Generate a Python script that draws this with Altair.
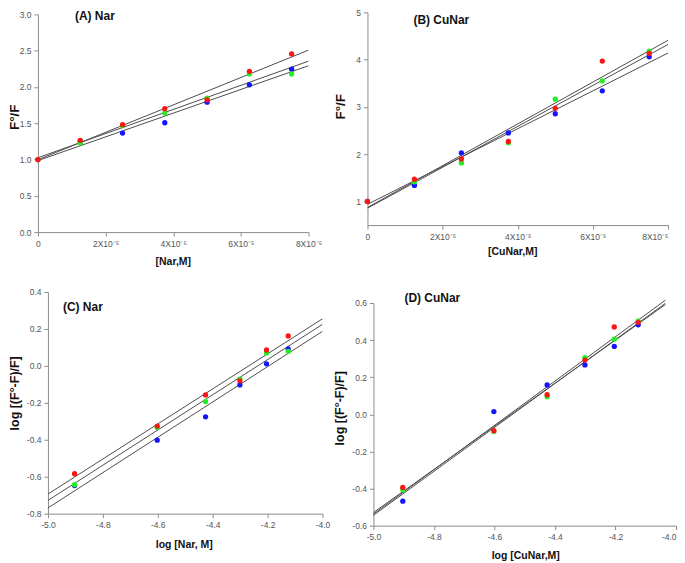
import altair as alt
import pandas as pd

# ---------------- data ----------------
series_names = ["Series 1", "Series 2", "Series 3"]
series_colors = ["#1414ff", "#22ee22", "#ff1414"]

conc = [0.0, 1.25e-5, 2.5e-5, 3.75e-5, 5.0e-5, 6.25e-5, 7.5e-5]
a_blue = [1.0, 1.25, 1.365, 1.507, 1.79, 2.03, 2.245]
a_green = [1.0, 1.228, 1.466, 1.64, 1.846, 2.18, 2.18]
a_red = [1.0, 1.265, 1.48, 1.70, 1.823, 2.215, 2.455]

b_blue = [1.0, 1.34, 2.03, 2.45, 2.856, 3.34, 4.06]
b_green = [1.0, 1.415, 1.815, 2.24, 3.165, 3.55, 4.18]
b_red = [1.0, 1.47, 1.90, 2.27, 2.97, 3.97, 4.135]

log_conc = [-4.903, -4.602, -4.426, -4.301, -4.204, -4.125]
c_blue = [-0.648, -0.402, -0.276, -0.103, 0.011, 0.092]
c_green = [-0.643, -0.333, -0.193, -0.072, 0.070, 0.079]
c_red = [-0.584, -0.326, -0.157, -0.081, 0.086, 0.162]

d_blue = [-0.468, 0.015, 0.158, 0.266, 0.366, 0.482]
d_green = [-0.407, -0.092, 0.094, 0.305, 0.405, 0.502]
d_red = [-0.394, -0.088, 0.106, 0.292, 0.471, 0.496]

conc_ticks = [0, 2e-5, 4e-5, 6e-5, 8e-5]
log_ticks = [-5.0, -4.8, -4.6, -4.4, -4.2, -4.0]
a_yticks = [0, 0.5, 1.0, 1.5, 2.0, 2.5, 3.0]
b_yticks = [1, 2, 3, 4, 5]
c_yticks = [-0.8, -0.6, -0.4, -0.2, 0.0, 0.2, 0.4]
d_yticks = [-0.6, -0.4, -0.2, 0.0, 0.2, 0.4, 0.6]

LINE = "#4d4d4d"
AXIS = "#8c8c8c"
LABEL = "#555555"
FONT = "Liberation Sans"

conc_label = "datum.value == 0 ? '0' : round(datum.value * 100000) + 'X10\u207b\u2075'"
dec_label = "(datum.value < 0 ? '-' : '') + format(abs(datum.value), '.1f')"
int_label = "format(datum.value, 'd')"


def frame(xs, blue, green, red):
    rows = []
    for k, (name, ys) in enumerate(zip(series_names, [blue, green, red])):
        for xv, yv in zip(xs, ys):
            rows.append({"x": xv, "y": yv, "series": name, "k": k})
    return pd.DataFrame(rows)


def panel(df, p):
    xalign = "center"
    if p.get("lastright"):
        xalign = {"condition": {"test": p["lastright"], "value": "right"}, "value": "center"}
    xaxis = alt.Axis(
        values=p["xticks"], labelExpr=p["xlab"], title=p["xtitle"], grid=False,
        tickSize=4, labelPadding=3, labelFontSize=8.5, labelColor=LABEL, labelAlign=xalign,
        labelFlush=False, labelOverlap=False, domainColor=AXIS, tickColor=AXIS,
        titleFontSize=10.5, titleFontWeight="bold", titleColor="#111111",
        titleX=p["xtx"], titleY=p["xty"], titleBaseline="middle", titleAlign="center",
    )
    yaxis = alt.Axis(
        values=p["yticks"], labelExpr=p["ylab"], title=p["ytitle"], grid=False,
        tickSize=4, labelPadding=3, labelFontSize=8.5, labelColor=LABEL,
        labelFlush=False, labelOverlap=False, domainColor=AXIS, tickColor=AXIS,
        titleFontSize=p["ytfs"], titleFontWeight="bold", titleColor="#111111",
        titleX=p["ytx"], titleY=p["yty"], titleBaseline="middle", titleAlign="center",
        offset=p["yoff"],
    )
    x = alt.X("x:Q", scale=alt.Scale(domain=p["xdom"], range=p["xrange"], zero=False, nice=False), axis=xaxis)
    y = alt.Y("y:Q", scale=alt.Scale(domain=p["ydom"], range=p["yrange"], zero=False, nice=False), axis=yaxis)
    base = alt.Chart(df)
    lines = base.transform_regression(
        "x", "y", groupby=["series"], extent=p["extent"]
    ).mark_line(color=LINE, strokeWidth=1, clip=True).encode(x=x, y=y, detail="series:N")
    pts = base.mark_circle(size=28, opacity=1).encode(
        x=x, y=y,
        color=alt.Color("series:N", scale=alt.Scale(domain=series_names, range=series_colors), legend=None),
        order=alt.Order("k:Q"),
    )
    return alt.layer(lines, pts).properties(
        width=p["w"], height=p["h"],
        title=alt.TitleParams(
            p["title"], anchor="start", frame="group", dx=p["tdx"], dy=p["tdy"], offset=0,
            baseline="middle", fontSize=12, fontWeight="bold", color="#111111", font=FONT,
        ),
    )


pa = dict(xdom=[0, 8e-5], xrange=[0, 271], w=271, ydom=[0, 3], yrange=[220, 2], h=220,
          xticks=conc_ticks, xlab=conc_label, yticks=a_yticks, ylab="format(datum.value, '.1f')",
          xtitle="[Nar,M]", ytitle="F\u00b0/F", xtx=135, xty=29, ytx=-23, yty=104.5, yoff=0, ytfs=13.5,
          extent=[0, 8e-5], title="(A) Nar", tdx=37, tdy=17.5)
pb = dict(xdom=[0, 8e-5], xrange=[0, 301], w=301, ydom=[0.5, 5], yrange=[213, 0], h=213,
          xticks=conc_ticks, xlab=conc_label, yticks=b_yticks, ylab=int_label,
          xtitle="[CuNar,M]", ytitle="F\u00b0/F", xtx=145, xty=26, ytx=-27, yty=94, yoff=0, ytfs=13.5,
          extent=[0, 8e-5], title="(B) CuNar", tdx=46, tdy=23.7, lastright="datum.value > 0.000079")
pc = dict(xdom=[-5, -4], xrange=[10, 285], w=285, ydom=[-0.8, 0.4], yrange=[222, 0], h=222,
          xticks=log_ticks, xlab=dec_label, yticks=c_yticks, ylab=dec_label,
          xtitle="log [Nar, M]", ytitle="log [(F\u00b0-F)/F]", xtx=146, xty=31, ytx=-33, yty=101, yoff=-10,
          ytfs=12.5, extent=[-5, -4], title="(C) Nar", tdx=25, tdy=31)
pd_ = dict(xdom=[-5, -4], xrange=[6, 309], w=309, ydom=[-0.6, 0.6], yrange=[234, 11], h=234,
           xticks=log_ticks, xlab=dec_label, yticks=d_yticks, ylab=dec_label,
           xtitle="log [CuNar,M]", ytitle="log [(F\u00b0-F)/F]", xtx=158, xty=30, ytx=-34, yty=116, yoff=-6,
           ytfs=12.5, extent=[-5, -4.035], title="(D) CuNar", tdx=37, tdy=17.7, lastright="datum.value > -4.01")

chart = alt.concat(
    panel(frame(conc, a_blue, a_green, a_red), pa),
    panel(frame(conc, b_blue, b_green, b_red), pb),
    panel(frame(log_conc, c_blue, c_green, c_red), pc),
    panel(frame(log_conc, d_blue, d_green, d_red), pd_),
    columns=2, spacing={"row": 60, "column": 45}, bounds="flush",
).properties(padding=0).configure(font=FONT).configure_view(stroke=None)

chart.save("out.html", embed_options={"renderer": "svg", "actions": False})
